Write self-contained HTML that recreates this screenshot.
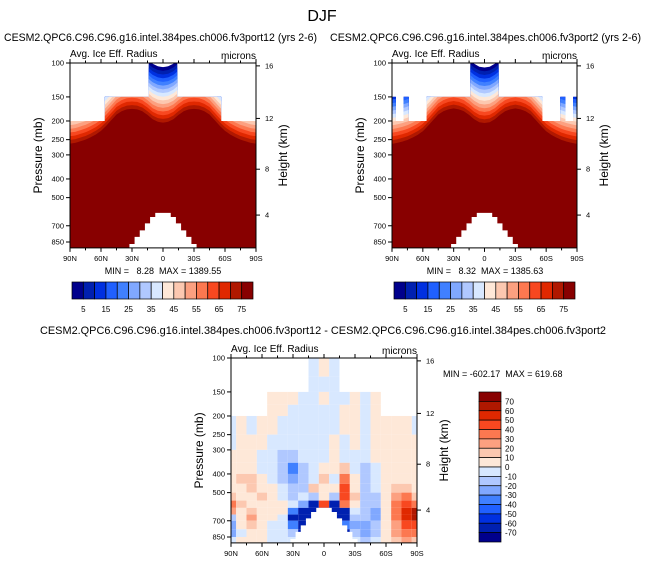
<!DOCTYPE html>
<html><head><meta charset="utf-8">
<style>
html,body{margin:0;padding:0;background:#fff;}
svg{display:block;font-family:"Liberation Sans",sans-serif;}
</style></head>
<body>
<svg id="fig" width="645" height="565" viewBox="0 0 645 565">
<text x="322" y="21" font-size="16" text-anchor="middle">DJF</text>
</svg>
<script>
// ---- data ----
const colors = ["#00008c","#0020b0","#0030e0","#2060ff","#4080ff","#80a8ff","#b0c8ff","#d8e8ff","#fee8d8","#fcc8b0","#fca080","#fc7850","#f84820","#e02800","#b01800","#880000"];
const absLat5 = [0,5,10,15,20,25,30,35,40,45,50,55,60,65,70,75,80,85,90];
const redTopLeft  = [204,202,196,186,178,174,173,174,178,185,198,212,225,235,243,250,255,260,262];
const redTopRight = [205,203,196,186,178,174,172,174,178,185,198,212,226,236,244,251,256,260,263];
const topoAbsLat = [0,5,10,15,20,25,30,35];
const topoP = [600,600,630,680,740,800,870,930];
const pTicks = [100,150,200,250,300,400,500,700,850];
const hTicks = [16,12,8,4];
const hTickP = [103.5,194,356,616];
const latTicks = [90,60,30,0,-30,-60,-90];
const latTickLabels = ["90N","60N","30N","0","30S","60S","90S"];
const topBarLabels = ["5","15","25","35","45","55","65","75"];
const diffBarLabels = ["70","60","50","40","30","20","10","0","-10","-20","-30","-40","-50","-60","-70"];
const diffLats = [90,80,70,60,50,40,30,20,10,0,-10,-20,-30,-40,-50,-60,-70,-80,-90];
const diffPEdges = [100,125,150,175,200,250,300,350,400,450,500,550,600,650,700,775,850,912];
const diffVals = [
[-5,-5,-5,-5,-5,-5,-5,-5,-5,5,-5,-5,-5,-5,-5,-5,-5,-5,-5],
[-5,-5,-5,-5,-5,-5,-5,-5,-5,-5,-5,-5,-5,-5,-5,-5,-5,-5,-5],
[5,5,5,5,5,5,5,-5,-5,5,-5,-5,5,-5,5,5,5,5,5],
[5,5,5,5,5,5,-5,-5,-5,-5,-5,5,5,-5,5,5,5,5,5],
[-5,5,-5,5,5,-5,-5,-5,-5,-5,-5,5,5,-5,5,5,5,5,-5],
[-5,5,5,5,-5,-5,-5,-5,-5,-5,5,-5,5,-5,5,5,5,5,5],
[5,5,5,-5,-5,-15,-15,-5,-5,-5,5,-5,-5,-5,5,5,5,5,5],
[5,5,5,-5,-5,-15,-35,-15,-5,5,5,15,-5,-15,-5,5,5,5,5],
[5,15,15,5,-5,-15,-25,-15,-5,15,-5,35,5,-15,-5,5,5,5,5],
[5,5,15,5,5,-5,-15,-15,15,5,5,45,5,-15,-5,5,15,15,5],
[15,5,5,15,5,-5,-15,-5,-15,5,-15,45,15,-15,-15,5,25,35,15],
[35,15,5,5,5,5,-5,-25,-70,45,-70,35,5,-15,-15,5,35,45,35],
[25,5,15,5,5,5,-35,-70,-70,-70,-70,-70,-5,-15,-25,5,35,55,60],
[-15,5,25,5,5,-5,-70,-70,-70,-70,-70,-70,-15,-15,-25,5,35,55,65],
[-25,5,15,5,-5,-5,-35,-70,-70,-70,-70,-35,-25,-25,-15,5,25,45,45],
[-25,-5,5,5,-5,-5,-15,-70,-70,-70,-70,-70,-15,-25,-15,5,25,35,35],
[-5,5,5,5,-5,-5,-5,-70,-70,-70,-70,-70,-5,-15,-5,5,15,25,15]
];
const diffLevels = [-70,-60,-50,-40,-30,-20,-10,0,10,20,30,40,50,60,70];

const NS = "http://www.w3.org/2000/svg";
const svg = document.getElementById("fig");
function el(tag, attrs, parent){ const e=document.createElementNS(NS,tag); for(const k in attrs) e.setAttribute(k,attrs[k]); (parent||svg).appendChild(e); return e; }
function txt(s, attrs, parent){ const e=el("text",attrs,parent); e.textContent=s; return e; }
function interp(xs, ys, x){ if(x<=xs[0]) return ys[0]; for(let i=1;i<xs.length;i++){ if(x<=xs[i]){const t=(x-xs[i-1])/(xs[i]-xs[i-1]); return ys[i-1]+t*(ys[i]-ys[i-1]);} } return ys[ys.length-1]; }

const K = 192.6, PBOT = 912;
function makeAxes(P){
  P.y = p => P.y100 + K*(Math.log10(p)-2);
  P.x = lat => P.x0 + (90-lat)/180*(P.x1-P.x0);
  P.yb = P.y(PBOT);
}
function capP(lat, right){
  const a=Math.abs(lat);
  if(a<=14.5) return 100;
  if(a<=57) return 150;
  if(right && a>=73 && a<=78) return 150;
  if(right && a>=86) return 150;
  return 200;
}
function capPDiff(lat){ const a=Math.abs(lat); if(a<=14.5) return 100; if(a<=55) return 150; return 200; }

function drawTopo(P, g){
  const step=5, pts=[];
  for(let lat=40; lat>=-40; lat-=step){
    const ps = interp(topoAbsLat, topoP, Math.abs(lat));
    if(ps>=PBOT) continue;
    pts.push([lat,ps]);
  }
  const first = pts[0], last = pts[pts.length-1];
  let d = "M"+P.x(first[0]+2.5)+","+P.yb;
  for(const [lat,ps] of pts){
    d += " L"+P.x(lat+2.5)+","+P.y(ps)+" L"+P.x(lat-2.5)+","+P.y(ps);
  }
  d += " L"+P.x(last[0]-2.5)+","+P.yb+" Z";
  const t = el("path",{d:d, fill:"#fff"}, g);
  
  
}

function drawFrame(P, g){
  el("rect",{x:P.x0,y:P.y100,width:P.x1-P.x0,height:P.yb-P.y100,fill:"none",stroke:"#000","stroke-width":1},g);
  pTicks.forEach(p=>{
    const y=P.y(p);
    el("line",{x1:P.x0-4,x2:P.x0,y1:y,y2:y,stroke:"#000"},g);
    const t=txt(String(p),{x:P.x0-6,y:y+2.5,"font-size":7.5,"text-anchor":"end"},g);
    
    
  });
  hTicks.forEach((h,i)=>{
    const y=P.y(hTickP[i]);
    el("line",{x1:P.x1,x2:P.x1+4,y1:y,y2:y,stroke:"#000"},g);
    const t=txt(String(h),{x:P.x1+9,y:y+2.5,"font-size":7.5},g);
    
    
  });
  for(let lat=90; lat>=-90; lat-=15){
    const x=P.x(lat), maj = lat%30===0;
    el("line",{x1:x,x2:x,y1:P.yb,y2:P.yb+(maj?4:2.5),stroke:"#000"},g);
    el("line",{x1:x,x2:x,y1:P.y100,y2:P.y100-(maj?4:2.5),stroke:"#000"},g);
  }
  latTicks.forEach((lat,i)=>{
    const t=txt(latTickLabels[i],{x:P.x(lat),y:P.yb+13,"font-size":7.5,"text-anchor":"middle"},g);
    
    
  });
  const a=txt("Avg. Ice Eff. Radius",{x:P.x0,y:P.y100-6,"font-size":10},g);
   
  const m=txt("microns",{x:P.x1,y:P.y100-4,"font-size":10,"text-anchor":"end"},g);
   
  const yl=txt("Pressure (mb)",{x:0,y:0,"font-size":12,"text-anchor":"middle",transform:`translate(${P.x0-28},${(P.y100+P.yb)/2}) rotate(-90)`},g);
   
  const hl=txt("Height (km)",{x:0,y:0,"font-size":12,"text-anchor":"middle",transform:`translate(${P.x1+31},${(P.y100+P.yb)/2}) rotate(-90)`},g);
   
}

function drawTopPanel(P, redTop, right, name){
  makeAxes(P);
  const g = el("g",{});
  
  
  const cid = name+"-clip";
  const cp = el("clipPath",{id:cid},g);
  let d="M"+P.x(90)+","+P.yb;
  for(let lat=90; lat>=-90; lat-=2.5){
    const c=capP(lat,right);
    d+=" L"+P.x(Math.min(90,lat+1.25))+","+P.y(c)+" L"+P.x(Math.max(-90,lat-1.25))+","+P.y(c);
  }
  d+=" L"+P.x(-90)+","+P.yb+" Z";
  el("path",{d:d},cp);
  const fg = el("g",{"clip-path":`url(#${cid})`},g);
  const bandPx = 3.7;
  for(let k=15;k>=0;k--){
    let pd="M"+P.x(90)+","+P.yb;
    for(let lat=90; lat>=-90; lat-=2.5){
      const p = interp(absLat5, redTop, Math.abs(lat));
      pd+=" L"+P.x(lat)+","+(P.y(p)-k*bandPx);
    }
    pd+=" L"+P.x(-90)+","+P.yb+" Z";
    const band = el("path",{d:pd,fill:colors[15-k]},fg);
    
    
  }
  drawTopo(P, g);
  drawFrame(P, g);
  return g;
}

function drawHBar(x0,y0,w,h,name){
  const g=el("g",{});
  
  
  const bw=w/16;
  colors.forEach((c,i)=>{
    const r=el("rect",{x:x0+i*bw,y:y0,width:bw,height:h,fill:c,stroke:"#000","stroke-width":0.7},g);
    
    
  });
  topBarLabels.forEach((s,i)=>{
    const t=txt(s,{x:x0+(1+2*i)*bw,y:y0+h+13,"font-size":8,"text-anchor":"middle"},g);
    
    
  });
}

const t1=txt("CESM2.QPC6.C96.C96.g16.intel.384pes.ch006.fv3port12 (yrs 2-6)",{x:4,y:41,"font-size":11,textLength:313,lengthAdjust:"spacingAndGlyphs"});
 
const t2=txt("CESM2.QPC6.C96.C96.g16.intel.384pes.ch006.fv3port2 (yrs 2-6)",{x:330,y:41,"font-size":11,textLength:311,lengthAdjust:"spacingAndGlyphs"});
 

const PL={x0:70,x1:256,y100:63}, PR={x0:392,x1:577,y100:63};
drawTopPanel(PL, redTopLeft, false, "left-panel");
drawTopPanel(PR, redTopRight, true, "right-panel");
const m1=txt("MIN =   8.28  MAX = 1389.55",{x:163,y:274,"font-size":9,"text-anchor":"middle"});
 
m1.setAttribute("style","white-space:pre");
const m2=txt("MIN =   8.32  MAX = 1385.63",{x:485,y:274,"font-size":9,"text-anchor":"middle"});
 
m2.setAttribute("style","white-space:pre");
drawHBar(72,282,181,17,"left-colorbar");
drawHBar(394,282,181,17,"right-colorbar");

const t3=txt("CESM2.QPC6.C96.C96.g16.intel.384pes.ch006.fv3port12 - CESM2.QPC6.C96.C96.g16.intel.384pes.ch006.fv3port2",{x:40,y:334,"font-size":11,textLength:566,lengthAdjust:"spacingAndGlyphs"});
 
const PD={x0:231,x1:417,y100:358};
makeAxes(PD);
const gd=el("g",{});


function diffColor(v){ let i=0; while(i<diffLevels.length && v>=diffLevels[i]) i++; return colors[i]; }
const cw=(PD.x1-PD.x0)/18;
diffVals.forEach((row,r)=>{
  row.forEach((v,c)=>{
    const lat=diffLats[c];
    const cap=capPDiff(lat);
    let pTop=diffPEdges[r], pBot=diffPEdges[r+1];
    if(pBot<=cap) return;
    pTop=Math.max(pTop,cap);
    const xc=PD.x(lat);
    const xa=Math.max(PD.x0,xc-cw/2), xb=Math.min(PD.x1,xc+cw/2);
    const cell=el("rect",{x:xa,y:PD.y(pTop),width:xb-xa,height:PD.y(pBot)-PD.y(pTop),fill:diffColor(v)},gd);
    
    
  });
});
drawTopo(PD, gd);
drawFrame(PD, gd);
const m3=txt("MIN = -602.17  MAX = 619.68",{x:443,y:377,"font-size":9});
 
m3.setAttribute("style","white-space:pre");
const gv=el("g",{});


const vy0=392, vh=150, vbh=vh/16;
colors.slice().reverse().forEach((c,i)=>{
  const r=el("rect",{x:479,y:vy0+i*vbh,width:22,height:vbh,fill:c,stroke:"#000","stroke-width":0.7},gv);
  
  
});
diffBarLabels.forEach((s,i)=>{
  const t=txt(s,{x:505,y:vy0+(i+1)*vbh+3,"font-size":8},gv);
  
  
});
</script>
</body></html>
